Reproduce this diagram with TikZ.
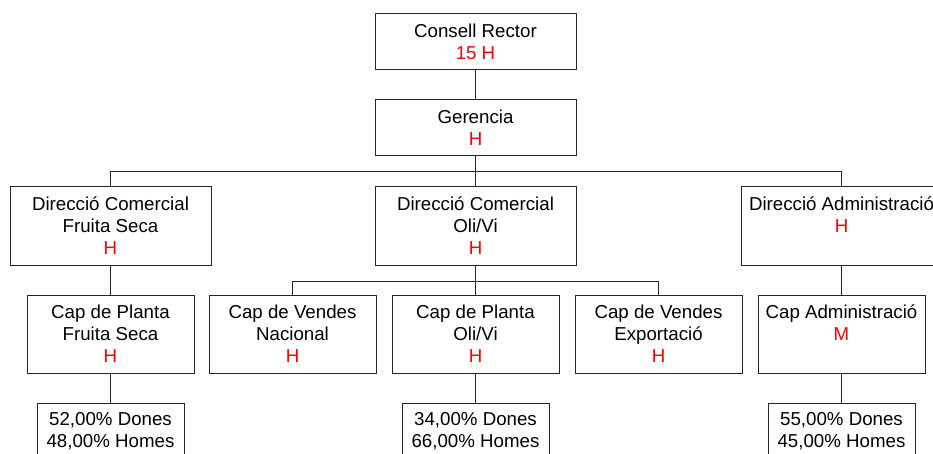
\documentclass[tikz,border=0pt]{standalone}
\usepackage{fontspec}
\setmainfont{Liberation Sans}
\usetikzlibrary{calc}

\tikzset{
  orgbox/.style={draw=black!85, line width=1pt, align=center, inner sep=0pt,
    minimum width=201pt, minimum height=78pt, font=\fontsize{18.7}{22}\selectfont},
  subbox/.style={orgbox, minimum width=167pt},
  topbox/.style={orgbox, minimum height=56pt},
  pctbox/.style={orgbox, minimum width=147pt, minimum height=56pt},
  short/.style={text depth=22pt},
  link/.style={draw=black!85, line width=1pt}
}
\newcommand{\sexe}[1]{\textcolor{red}{#1}}

\begin{document}
\begin{tikzpicture}[x=1pt,y=-1pt]

\clip (0,0) rectangle (933,454);
\fill[white] (0,0) rectangle (933,454);

% top of the chart
\node[topbox] (rector) at (475.5,42) {Consell Rector\\\sexe{15 H}};
\node[topbox] (gerencia) at (475.5,128) {Gerencia\\\sexe{H}};

% directors
\node[orgbox] (dirfs) at (110.5,226) {Direcció Comercial\\Fruita Seca\\\sexe{H}};
\node[orgbox] (dirov) at (475.5,226) {Direcció Comercial\\Oli/Vi\\\sexe{H}};
\node[orgbox, short] (diradm) at (841.5,226) {Direcció Administració\\\sexe{H}};

% heads
\node[subbox] (capfs) at (110.5,334) {Cap de Planta\\Fruita Seca\\\sexe{H}};
\node[subbox] (capvn) at (292.5,334) {Cap de Vendes\\Nacional\\\sexe{H}};
\node[subbox] (capov) at (475.5,334) {Cap de Planta\\Oli/Vi\\\sexe{H}};
\node[subbox] (capve) at (658.5,334) {Cap de Vendes\\Exportació\\\sexe{H}};
\node[subbox, short] (capadm) at (841.5,334) {Cap Administració\\\sexe{M}};

% staff shares
\node[pctbox] (pctfs) at (110.5,431) {52,00\% Dones\\48,00\% Homes};
\node[pctbox] (pctov) at (475.5,431) {34,00\% Dones\\66,00\% Homes};
\node[pctbox] (pctadm) at (841.5,431) {55,00\% Dones\\45,00\% Homes};

% branch points
\coordinate (split1) at (475.5,172);
\coordinate (split2) at (475.5,281);

% connectors
\draw[link] (rector.south) -- (gerencia.north);
\draw[link] (gerencia.south) -- (dirov.north);
\draw[link] (split1) -| (dirfs.north);
\draw[link] (split1) -| (diradm.north);
\draw[link] (dirfs.south) -- (capfs.north);
\draw[link] (dirov.south) -- (capov.north);
\draw[link] (split2) -| (capvn.north);
\draw[link] (split2) -| (capve.north);
\draw[link] (diradm.south) -- (capadm.north);
\draw[link] (capfs.south) -- (pctfs.north);
\draw[link] (capov.south) -- (pctov.north);
\draw[link] (capadm.south) -- (pctadm.north);

\end{tikzpicture}
\end{document}
